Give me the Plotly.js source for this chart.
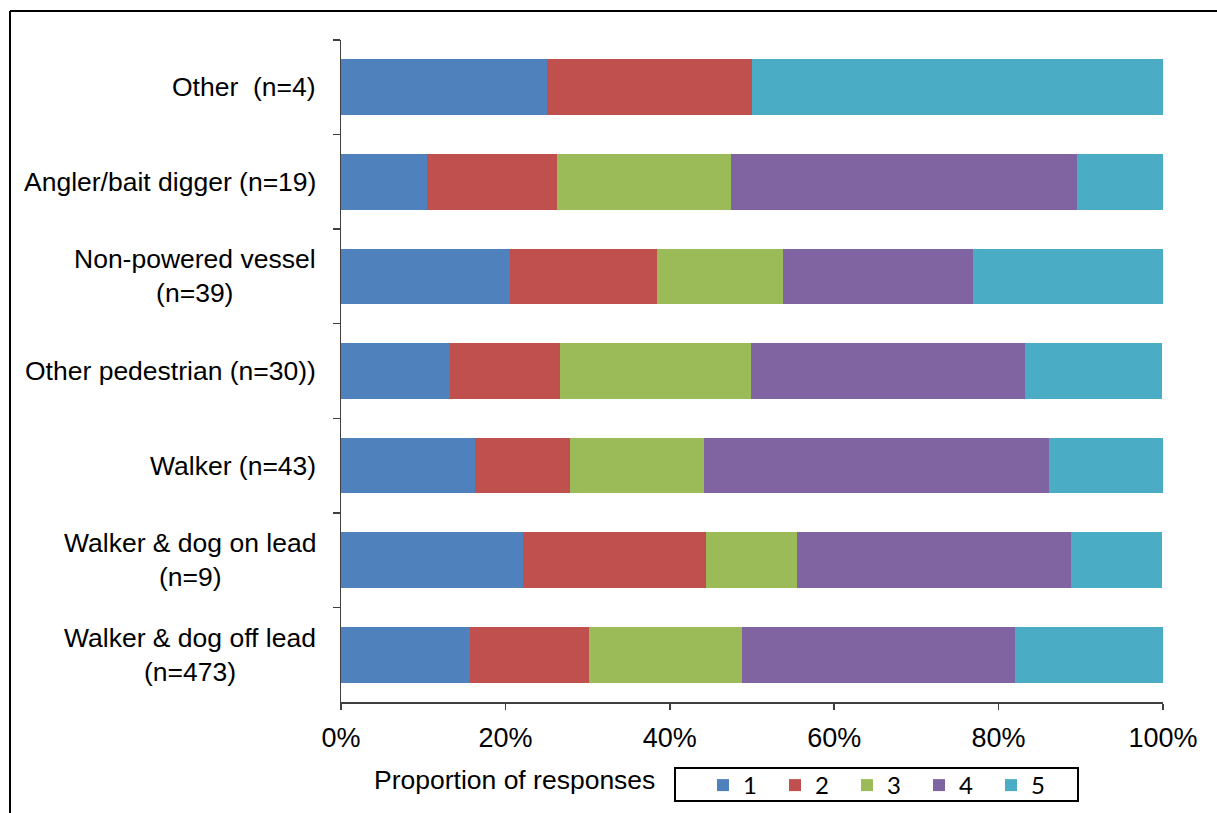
<!DOCTYPE html>
<html>
<head>
<meta charset="utf-8">
<script src="https://cdn.plot.ly/plotly-3.0.1.min.js"></script>
<style>html,body{margin:0;padding:0;background:#fff;}#chart{width:1217px;height:813px;}</style>
</head>
<body>
<div id="chart"></div>
<script>
const categories = [
  "Other  (n=4)",
  "Angler/bait digger (n=19)",
  "Non-powered vessel<br>(n=39)",
  "Other pedestrian (n=30))",
  "Walker (n=43)",
  "Walker & dog on lead<br>(n=9)",
  "Walker & dog off lead<br>(n=473)"
];
const seriesNames = ["1", "2", "3", "4", "5"];
const series1 = [25, 10.5, 20.5, 13.3, 16.3, 22.2, 15.7];
const series2 = [25, 15.8, 17.9, 13.3, 11.6, 22.2, 14.5];
const series3 = [0, 21.1, 15.4, 23.3, 16.3, 11.1, 18.6];
const series4 = [0, 42.1, 23.1, 33.3, 41.9, 33.3, 33.2];
const series5 = [50, 10.5, 23.1, 16.7, 14.0, 11.1, 18.0];
const colors = ["#4F81BD", "#C0504D", "#9BBB59", "#8064A2", "#4BACC6"];
const xTitle = "Proportion of responses";

const allSeries = [series1, series2, series3, series4, series5];
const traces = allSeries.map((vals, i) => ({
  type: "bar",
  orientation: "h",
  name: seriesNames[i],
  x: vals,
  y: categories,
  marker: {color: colors[i], line: {width: 0}},
  hoverinfo: "x+name"
}));

const W = 1217, H = 813;
const L = 341, R = 54, T = 40, B = 111;
const pw = W - L - R, ph = H - T - B;
const px2x = px => (px - L) / pw;
const py2y = py => (H - B - py) / ph;

const yAnnots = categories.map(c => ({
  text: c, xref: "paper", x: 0, yref: "y", y: c,
  xanchor: "right", yanchor: "middle", xshift: -23, align: "center",
  showarrow: false,
  font: {family: "Liberation Sans, Arial, sans-serif", size: 26.5, color: "#000"}
}));

const layout = {
  width: W, height: H,
  margin: {l: L, r: R, t: T, b: B, pad: 0, autoexpand: false},
  paper_bgcolor: "#fff", plot_bgcolor: "#fff",
  barmode: "stack",
  bargap: 0.41,
  showlegend: true,
  legend: {
    orientation: "h", x: px2x(703), xanchor: "left", y: py2y(763), yanchor: "top",
    font: {family: "Lato, Liberation Sans, sans-serif", size: 24, color: "#000"},
    bgcolor: "rgba(0,0,0,0)", borderwidth: 0,
    entrywidth: 27, entrywidthmode: "pixels", traceorder: "normal"
  },
  xaxis: {
    range: [0, 100], dtick: 20, tick0: 0, ticksuffix: "%",
    showgrid: false, zeroline: false,
    showline: true, linecolor: "#404040", linewidth: 1.5,
    ticks: "outside", ticklen: 6, tickcolor: "#404040", tickwidth: 1.5,
    ticklabelstandoff: 5,
    tickfont: {family: "Liberation Sans, Arial, sans-serif", size: 27, color: "#000"},
    fixedrange: true
  },
  yaxis: {
    type: "category", autorange: "reversed",
    showticklabels: false, showgrid: false, zeroline: false,
    showline: true, linecolor: "#404040", linewidth: 1.5,
    ticks: "outside", tickson: "boundaries", ticklen: 7, tickcolor: "#404040", tickwidth: 1.5,
    fixedrange: true
  },
  annotations: yAnnots.concat([{
    text: xTitle, xref: "paper", yref: "paper",
    x: px2x(514), y: py2y(780), xanchor: "center", yanchor: "middle",
    showarrow: false,
    font: {family: "Liberation Sans, Arial, sans-serif", size: 26.5, color: "#000"}
  }]),
  shapes: [
    {type: "rect", xref: "paper", yref: "paper",
     x0: px2x(675), x1: px2x(1078), y0: py2y(801), y1: py2y(768),
     line: {color: "#000", width: 2}, fillcolor: "rgba(0,0,0,0)"},
    {type: "line", xref: "paper", yref: "paper",
     x0: px2x(10), x1: px2x(1230), y0: py2y(11), y1: py2y(11),
     line: {color: "#000", width: 2}},
    {type: "line", xref: "paper", yref: "paper",
     x0: px2x(10), x1: px2x(10), y0: py2y(11), y1: py2y(830),
     line: {color: "#000", width: 2}}
  ]
};

Plotly.newPlot("chart", traces, layout, {displayModeBar: false, staticPlot: true});
</script>
</body>
</html>
